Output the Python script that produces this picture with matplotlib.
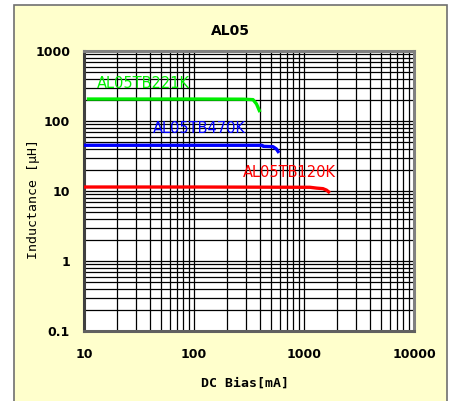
import matplotlib
matplotlib.use("Agg")
import matplotlib.pyplot as plt
from matplotlib.patches import Rectangle
from matplotlib.ticker import LogLocator, NullFormatter, FixedLocator, FixedFormatter

plt.rcParams['font.family'] = ['DejaVu Sans']

title = "AL05"
xlabel = "DC Bias[mA]"
ylabel = "Inductance [μH]"

x_ticks = [10, 100, 1000, 10000]
x_tick_labels = ["10", "100", "1000", "10000"]
y_ticks = [0.1, 1, 10, 100, 1000]
y_tick_labels = ["0.1", "1", "10", "100", "1000"]

series_names = ["AL05TB221K", "AL05TB470K", "AL05TB120K"]
series_colors = ["#00ee00", "#0000ff", "#ff0000"]

x_221 = [10.6, 100, 280, 344, 370, 398]
y_221 = [206, 206, 205, 202, 175, 134]

x_470 = [10, 100, 415, 425, 522, 560, 593]
y_470 = [45, 45, 45, 43.5, 43, 40, 35]

x_120 = [10, 100, 1130, 1300, 1487, 1600, 1720]
y_120 = [11.4, 11.4, 11.3, 11.0, 10.8, 10.3, 9.4]

label_pos = [(13.1, 349), (42.4, 77), (279, 18.4)]

fig = plt.figure(figsize=(4.54, 4.01), dpi=100)
fig.patch.set_facecolor("white")

# outer yellow panel
panel = Rectangle((14 / 454, -0.01), (447 - 14) / 454, (401 - 5) / 401 + 0.01,
                  transform=fig.transFigure, facecolor="#ffffcc",
                  edgecolor="#707070", linewidth=1.2, zorder=-10)
fig.patches.append(panel)

ax = fig.add_axes([84 / 454, 1 - 331 / 401, (414 - 84) / 454, (331 - 51) / 401])
ax.set_zorder(5)
ax.set_facecolor("white")
ax.set_xscale("log")
ax.set_yscale("log")
ax.set_xlim(10, 10000)
ax.set_ylim(0.1, 1000)

ax.xaxis.set_major_locator(FixedLocator(x_ticks))
ax.xaxis.set_major_formatter(FixedFormatter(x_tick_labels))
ax.yaxis.set_major_locator(FixedLocator(y_ticks))
ax.yaxis.set_major_formatter(FixedFormatter(y_tick_labels))
ax.xaxis.set_minor_locator(LogLocator(base=10, subs=range(2, 10), numticks=20))
ax.yaxis.set_minor_locator(LogLocator(base=10, subs=range(2, 10), numticks=20))
ax.xaxis.set_minor_formatter(NullFormatter())
ax.yaxis.set_minor_formatter(NullFormatter())

ax.grid(True, which="both", color="black", linewidth=0.9)
ax.set_axisbelow(True)
ax.tick_params(which="both", length=0)
ax.tick_params(axis="x", pad=12, labelsize=9)
ax.tick_params(axis="y", pad=10, labelsize=9)
for lab in ax.get_xticklabels() + ax.get_yticklabels():
    lab.set_fontweight("bold")

for s in ax.spines.values():
    s.set_color("#808080")
    s.set_linewidth(2.2)
ax.spines["left"].set_color("#404040")
ax.spines["bottom"].set_color("#606060")

for xs, ys, c in [(x_221, y_221, series_colors[0]),
                  (x_470, y_470, series_colors[1]),
                  (x_120, y_120, series_colors[2])]:
    ax.plot(xs, ys, color=c, linewidth=2.4, solid_capstyle="butt", zorder=3)

for name, c, (lx, ly) in zip(series_names, series_colors, label_pos):
    ax.text(lx, ly, name, color=c, fontsize=10.5, ha="left", va="center", zorder=4)

fig.text(230 / 454, 1 - 31 / 401, title, ha="center", va="center",
         fontsize=10, fontweight="bold")
fig.text(245 / 454, 1 - 383 / 401, xlabel, ha="center", va="center",
         fontsize=9.5, fontweight="bold", family="DejaVu Sans Mono")
fig.text(34 / 454, 1 - 199 / 401, ylabel, ha="center", va="center",
         fontsize=9.5, rotation=90, family="DejaVu Sans Mono")

fig.savefig("out.png", dpi=100)
